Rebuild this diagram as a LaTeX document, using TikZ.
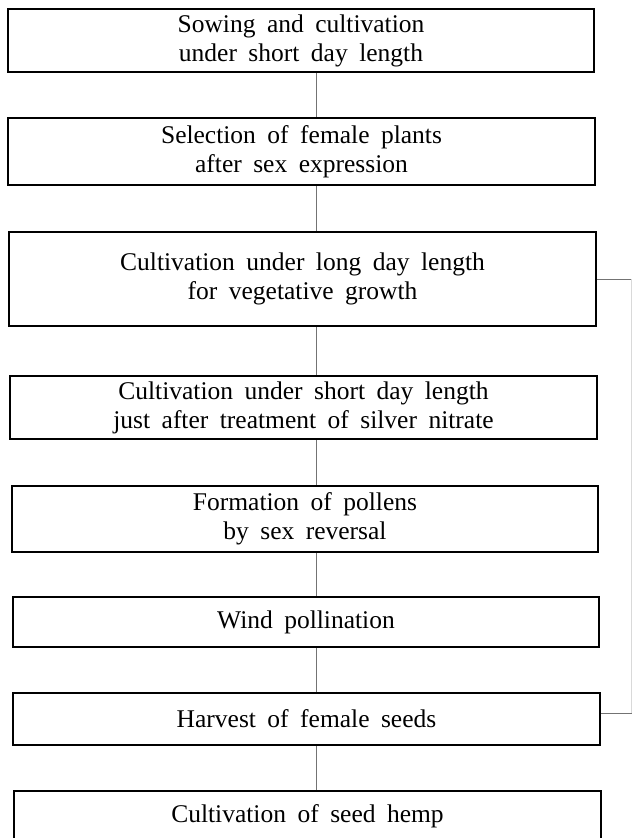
\documentclass[tikz,border=0pt]{standalone}
\usepackage{fontspec}
\setmainfont{Liberation Serif}[WordSpace=1.8]
\begin{document}
\begin{tikzpicture}[x=1pt,y=-1pt,
  box/.style={draw, line width=2.2pt, inner sep=0pt, align=center,
    font=\fontsize{25.5}{29}\selectfont},
  link/.style={draw=black!55, line width=0.8pt}]
\clip (0,0) rectangle (632,838);
\fill[white] (0,0) rectangle (632,838);
\node[box, minimum width=586pt, minimum height=63pt] (b1) at (301,40.5) {Sowing and cultivation\\under short day length};
\node[box, minimum width=587pt, minimum height=67pt] (b2) at (301.5,151.5) {Selection of female plants\\after sex expression};
\node[box, minimum width=587pt, minimum height=94pt] (b3) at (302.5,279) {Cultivation under long day length\\for vegetative growth};
\node[box, minimum width=587pt, minimum height=63pt] (b4) at (303.5,407.5) {Cultivation under short day length\\just after treatment of silver nitrate};
\node[box, minimum width=586pt, minimum height=66pt] (b5) at (305,519) {Formation of pollens\\by sex reversal};
\node[box, minimum width=586pt, minimum height=50pt] (b6) at (306,622) {Wind pollination};
\node[box, minimum width=587pt, minimum height=52pt] (b7) at (306.5,719) {Harvest of female seeds};
\node[box, minimum width=587pt, minimum height=50pt] (b8) at (307.5,816) {Cultivation of seed hemp};
\coordinate (cx) at (316,0);
\coordinate (rx) at (631.5,0);
\draw[link] (b1.south -| cx) -- (b2.north -| cx);
\draw[link] (b2.south -| cx) -- (b3.north -| cx);
\draw[link] (b3.south -| cx) -- (b4.north -| cx);
\draw[link] (b4.south -| cx) -- (b5.north -| cx);
\draw[link] (b5.south -| cx) -- (b6.north -| cx);
\draw[link] (b6.south -| cx) -- (b7.north -| cx);
\draw[link] (b7.south -| cx) -- (b8.north -| cx);
\draw[link] (b3.east) -- (b3.east -| rx);
\draw[link] ([yshift=6pt]b7.east) -- ([yshift=6pt]b7.east -| rx);
\draw[draw=black!15, line width=0.8pt] (b3.east -| rx) -- ([yshift=6pt]b7.east -| rx);
\end{tikzpicture}
\end{document}
